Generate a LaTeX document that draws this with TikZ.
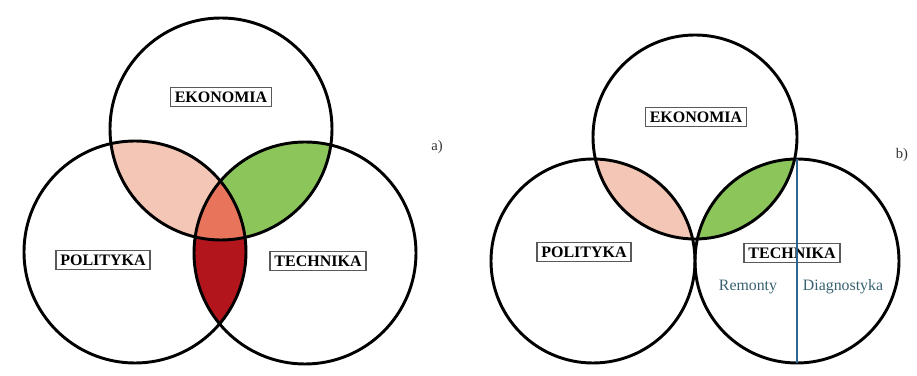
\documentclass[tikz,border=0pt]{standalone}
\usepackage{fontspec}
\setmainfont{Liberation Serif}
\usetikzlibrary{positioning,calc}
\definecolor{lenspink}{RGB}{244,198,182}
\definecolor{lensgreen}{RGB}{140,198,90}
\definecolor{lensorange}{RGB}{232,116,92}
\definecolor{lensdark}{RGB}{178,22,28}
\definecolor{splitblue}{RGB}{44,100,146}
\definecolor{parttext}{RGB}{56,96,112}
\tikzset{ring/.style={circle, draw, line width=1.9pt, inner sep=0pt, outer sep=0pt}}
\tikzset{tag/.style={draw=black!65, line width=0.9pt, inner xsep=2.8pt, inner ysep=2.6pt, font=\fontsize{10.4}{12}\selectfont\bfseries}}
\tikzset{part/.style={text=parttext, font=\fontsize{10.3}{12}\selectfont}}
\tikzset{panel/.style={font=\fontsize{9.5}{11}\selectfont, text=black!80}}

\begin{document}
\begin{tikzpicture}[x=0.65pt, y=-0.65pt]
  \useasboundingbox (0,0) rectangle (917,376);

  % Wariant a): trzy przecinajace sie kola
  \coordinate (ekoA) at (221,129);
  \coordinate (polA) at (135,252);
  \coordinate (techA) at (305,253);
  \begin{scope}
    \clip (ekoA) circle[radius=111];
    \fill[lenspink] (polA) circle[radius=111];
    \fill[lensgreen] (techA) circle[radius=111];
  \end{scope}
  \begin{scope}
    \clip (polA) circle[radius=111];
    \fill[lensdark] (techA) circle[radius=111];
    \clip (ekoA) circle[radius=111];
    \fill[lensorange] (techA) circle[radius=111];
  \end{scope}
  \node[ring, minimum size=144.3pt] (ekonomiaA) at (ekoA) {};
  \node[ring, minimum size=144.3pt] (politykaA) at (polA) {};
  \node[ring, minimum size=144.3pt] (technikaA) at (techA) {};
  \node[tag] (tagEkoA) at (221,97) {EKONOMIA};
  \node[tag] (tagPolA) at (103,260) {POLITYKA};
  \node[tag] (tagTechA) at (318,261) {TECHNIKA};
  \node[panel] (panelA) at (437,147) {a)};

  % Wariant b): polityka i technika styczne
  \coordinate (ekoB) at (695,137);
  \coordinate (polB) at (593,261);
  \coordinate (techB) at (797,261);
  \begin{scope}
    \clip (ekoB) circle[radius=102];
    \fill[lenspink] (polB) circle[radius=102];
    \fill[lensgreen] (techB) circle[radius=102];
  \end{scope}
  \node[ring, minimum size=132.6pt] (ekonomiaB) at (ekoB) {};
  \node[ring, minimum size=132.6pt] (politykaB) at (polB) {};
  \node[ring, minimum size=132.6pt] (technikaB) at (techB) {};
  \node[tag] (tagEkoB) at (696,117) {EKONOMIA};
  \node[tag] (tagPolB) at (584,252) {POLITYKA};
  \node[tag] (tagTechB) at (792,253) {TECHNIKA};
  \draw[splitblue, line width=1.3pt] (technikaB.north) -- (technikaB.south);
  \node[part] (remonty) at (748,287) {Remonty};
  \node[part] (diagnostyka) at (843,287) {Diagnostyka};
  \node[panel] (panelB) at (902,155) {b)};
\end{tikzpicture}
\end{document}
